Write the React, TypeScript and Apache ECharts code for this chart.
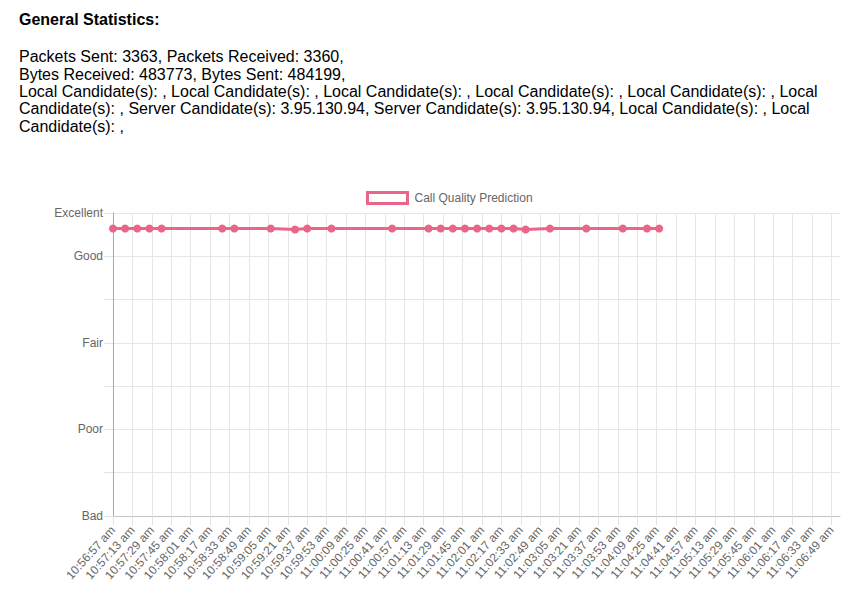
import React, { useEffect, useRef } from "react";
import * as echarts from "echarts";

const statsTitle = "General Statistics:";
const statsLines = [
  "Packets Sent: 3363, Packets Received: 3360,",
  "Bytes Received: 483773, Bytes Sent: 484199,",
  "Local Candidate(s): , Local Candidate(s): , Local Candidate(s): , Local Candidate(s): , Local Candidate(s): , Local",
  "Candidate(s): , Server Candidate(s): 3.95.130.94, Server Candidate(s): 3.95.130.94, Local Candidate(s): , Local",
  "Candidate(s): ,",
];

const seriesName = "Call Quality Prediction";

// x window (time axis): start time, length in seconds, tick step in seconds
const windowStart = "10:56:57";
const windowSeconds = 599;
const tickStepSeconds = 16;

const sampleTimes = [
  "10:56:57", "10:57:07", "10:57:17", "10:57:27", "10:57:37",
  "10:58:27", "10:58:37", "10:59:07", "10:59:27", "10:59:37",
  "10:59:57", "11:00:47", "11:01:17", "11:01:27", "11:01:37",
  "11:01:47", "11:01:57", "11:02:07", "11:02:17", "11:02:27",
  "11:02:37", "11:02:57", "11:03:27", "11:03:57", "11:04:17",
  "11:04:27",
];
const qualityValues = [
  4.32, 4.32, 4.32, 4.32, 4.32,
  4.32, 4.32, 4.32, 4.31, 4.32,
  4.32, 4.32, 4.32, 4.32, 4.32,
  4.32, 4.32, 4.32, 4.32, 4.32,
  4.31, 4.32, 4.32, 4.32, 4.32,
  4.32,
];

const levelValues = [1, 2, 3, 4, 4.5];
const levelLabels = ["Bad", "Poor", "Fair", "Good", "Excellent"];

const PINK = "rgb(234, 102, 137)";
const FONT = '"Liberation Sans", Arial, sans-serif';

function toSec(t: string): number {
  const [h, m, s] = t.split(":").map(Number);
  return h * 3600 + m * 60 + s;
}

function fmtTime(total: number): string {
  const h24 = Math.floor(total / 3600) % 24;
  const m = Math.floor((total % 3600) / 60);
  const s = total % 60;
  const ampm = h24 < 12 ? "am" : "pm";
  let h = h24 % 12;
  if (h === 0) h = 12;
  const pad = (n: number) => (n < 10 ? "0" + n : "" + n);
  return `${h}:${pad(m)}:${pad(s)} ${ampm}`;
}

export default function App() {
  const ref = useRef<HTMLDivElement>(null);

  useEffect(() => {
    if (!ref.current) return;
    const chart = echarts.init(ref.current, undefined, { renderer: "svg" });
    const start = toSec(windowStart);
    const data = sampleTimes.map((t, i) => [toSec(t) - start, qualityValues[i]]);

    const lineYs = [56.5, 74, 91, 108.5, 126];
    const graphic: any[] = [
      {
        type: "text",
        x: 19,
        y: 19,
        style: {
          text: statsTitle,
          fontFamily: FONT,
          fontSize: 16,
          fontWeight: "bold",
          fill: "#000",
          align: "left",
          verticalAlign: "middle",
        },
      },
      ...statsLines.map((line, i) => ({
        type: "text",
        x: 19,
        y: lineYs[i],
        style: {
          text: line,
          fontFamily: FONT,
          fontSize: 16,
          fill: "#000",
          align: "left",
          verticalAlign: "middle",
        },
      })),
    ];

    chart.setOption({
      animation: false,
      backgroundColor: "#fff",
      textStyle: { fontFamily: FONT },
      graphic,
      legend: {
        left: 366,
        top: 191,
        padding: 0,
        itemWidth: 40,
        itemHeight: 11,
        icon: "rect",
        itemStyle: { color: "#fff", borderColor: PINK, borderWidth: 3 },
        textStyle: { color: "#666", fontSize: 12, fontFamily: FONT, padding: [0, 0, 0, 2] },
        data: [seriesName],
      },
      grid: { left: 113, right: 4, top: 213, bottom: 84, containLabel: false },
      xAxis: {
        type: "value",
        min: 0,
        max: windowSeconds,
        interval: tickStepSeconds,
        axisLine: { show: true, lineStyle: { color: "#c4c4c4" } },
        axisTick: { show: true, length: 9, lineStyle: { color: "#e2e2e2" } },
        splitLine: { show: true, showMaxLine: false, lineStyle: { color: "#e6e6e6" } },
        axisLabel: {
          rotate: 48,
          margin: 12,
          color: "#666",
          fontSize: 12,
          fontFamily: FONT,
          showMaxLabel: false,
          formatter: (v: number) => (v % tickStepSeconds === 0 ? fmtTime(start + v) : ""),
        },
      },
      yAxis: {
        type: "value",
        min: 1,
        max: 4.5,
        interval: 0.5,
        axisLine: { show: true, lineStyle: { color: "#a8a8a8" } },
        axisTick: { show: true, length: 9, lineStyle: { color: "#e2e2e2" } },
        splitLine: { show: true, lineStyle: { color: "#e6e6e6" } },
        axisLabel: {
          margin: 10,
          color: "#666",
          fontSize: 12,
          fontFamily: FONT,
          formatter: (v: number) => {
            const idx = levelValues.indexOf(v);
            return idx >= 0 ? levelLabels[idx] : "";
          },
        },
      },
      series: [
        {
          name: seriesName,
          type: "line",
          data,
          symbol: "circle",
          symbolSize: 8,
          showSymbol: true,
          lineStyle: { color: PINK, width: 3 },
          itemStyle: { color: PINK },
        },
      ],
    });

    return () => chart.dispose();
  }, []);

  return (
    <div
      ref={ref}
      style={{ position: "absolute", left: 0, top: 0, width: 844, height: 600 }}
    />
  );
}
